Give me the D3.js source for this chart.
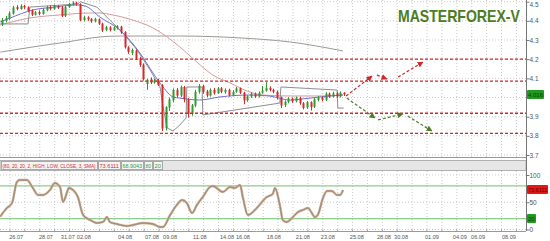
<!DOCTYPE html>
<html>
<head>
<meta charset="utf-8">
<script src="https://cdnjs.cloudflare.com/ajax/libs/d3/7.8.5/d3.min.js"></script>
<style>
  body { margin: 0; background: #fff; }
  svg { display: block; font-family: "Liberation Sans", Arial, sans-serif; }
</style>
</head>
<body>
<div id="chart"></div>
<script>
// ---- candles (4 bars per trading day) ----
const opens = [
  4.383, 4.400, 4.412, 4.438, 4.472, 4.462, 4.478, 4.470, 4.455, 4.432,
  4.446, 4.436, 4.455, 4.470, 4.462, 4.476, 4.470, 4.425, 4.472, 4.486,
  4.495, 4.488, 4.405, 4.418, 4.410, 4.398, 4.408, 4.386, 4.352, 4.366,
  4.352, 4.362, 4.370, 4.342, 4.262, 4.232, 4.245, 4.205, 4.172, 4.070,
  4.095, 4.078, 4.090, 4.065, 3.840, 3.948, 3.985, 4.040, 4.010, 4.055,
  3.990, 3.915, 3.958, 4.030, 4.060, 4.032, 4.010, 4.040, 4.022, 4.048,
  4.028, 4.040, 4.012, 4.030, 4.048, 4.025, 3.985, 4.005, 4.020, 4.005,
  4.025, 4.035, 4.050, 4.040, 4.030, 4.000, 3.960, 3.978, 3.995, 3.980,
  3.998, 3.970, 3.948, 3.975, 3.952, 3.988, 4.000, 3.988, 4.020, 4.005,
  4.022, 4.005, 4.025
];
const highs = [
  4.415, 4.425, 4.450, 4.478, 4.482, 4.486, 4.484, 4.476, 4.460, 4.452,
  4.455, 4.466, 4.478, 4.480, 4.485, 4.482, 4.478, 4.480, 4.494, 4.502,
  4.500, 4.492, 4.425, 4.424, 4.415, 4.416, 4.412, 4.390, 4.374, 4.372,
  4.372, 4.378, 4.374, 4.346, 4.268, 4.256, 4.250, 4.212, 4.178, 4.098,
  4.105, 4.098, 4.098, 4.070, 3.955, 4.000, 4.048, 4.050, 4.062, 4.060,
  3.998, 3.966, 4.040, 4.070, 4.066, 4.040, 4.048, 4.050, 4.055, 4.055,
  4.048, 4.046, 4.038, 4.055, 4.052, 4.030, 4.012, 4.028, 4.026, 4.032,
  4.060, 4.080, 4.058, 4.046, 4.036, 4.005, 3.985, 4.002, 4.000, 4.005,
  4.004, 3.976, 3.982, 3.980, 3.998, 4.008, 4.005, 4.028, 4.026, 4.030,
  4.030, 4.032, 4.028
];
const lows = [
  4.373, 4.392, 4.405, 4.432, 4.455, 4.458, 4.462, 4.445, 4.425, 4.428,
  4.430, 4.432, 4.450, 4.455, 4.458, 4.462, 4.420, 4.420, 4.468, 4.480,
  4.480, 4.398, 4.398, 4.400, 4.390, 4.392, 4.378, 4.342, 4.346, 4.345,
  4.348, 4.355, 4.332, 4.255, 4.228, 4.222, 4.196, 4.160, 4.088, 4.040,
  4.070, 4.072, 4.060, 3.825, 3.828, 3.930, 3.975, 4.000, 4.002, 3.975,
  3.895, 3.905, 3.950, 4.020, 4.020, 4.002, 4.005, 4.015, 4.018, 4.022,
  4.020, 4.005, 4.008, 4.025, 4.018, 3.965, 3.978, 3.998, 3.998, 4.000,
  4.020, 4.030, 4.032, 4.022, 3.990, 3.945, 3.950, 3.970, 3.972, 3.975,
  3.962, 3.938, 3.940, 3.932, 3.945, 3.980, 3.980, 3.982, 3.998, 4.000,
  3.998, 4.000, 4.008
];
const closes = [
  4.404, 4.415, 4.440, 4.470, 4.462, 4.478, 4.470, 4.452, 4.432, 4.445,
  4.436, 4.458, 4.470, 4.462, 4.478, 4.468, 4.425, 4.472, 4.488, 4.496,
  4.486, 4.405, 4.418, 4.408, 4.398, 4.410, 4.385, 4.350, 4.368, 4.352,
  4.365, 4.372, 4.340, 4.262, 4.238, 4.248, 4.205, 4.170, 4.095, 4.092,
  4.078, 4.090, 4.065, 3.838, 3.950, 3.990, 4.040, 4.010, 4.055, 3.990,
  3.915, 3.960, 4.030, 4.060, 4.030, 4.010, 4.040, 4.022, 4.048, 4.030,
  4.040, 4.012, 4.030, 4.048, 4.025, 3.985, 4.005, 4.020, 4.005, 4.025,
  4.035, 4.050, 4.040, 4.030, 4.000, 3.958, 3.978, 3.995, 3.980, 3.998,
  3.970, 3.945, 3.975, 3.950, 3.990, 4.000, 3.988, 4.020, 4.005, 4.022,
  4.005, 4.025, 4.016
];

// ---- indicator lines: [bar, price] ----
const fastMA = [[-0.5, 4.394], [2.2, 4.415], [8.3, 4.457], [13.7, 4.471], [20.2, 4.483], [22.3, 4.478],
  [26.3, 4.420], [31.7, 4.352], [37.1, 4.232], [40.6, 4.128], [43.3, 4.055], [46.0, 4.003], [47.8, 3.997],
  [53.2, 3.987], [58.6, 4.003], [66.7, 4.013], [71.8, 4.008], [77.4, 3.987], [82.8, 3.997], [88.2, 4.008], [91.7, 4.013]];
const slowMA = [[-0.5, 4.378], [7.5, 4.415], [15.6, 4.431], [23.7, 4.441], [26.3, 4.441], [29.8, 4.431],
  [35.2, 4.404], [40.6, 4.363], [44.4, 4.316], [47.8, 4.264], [52.4, 4.185], [56.7, 4.117], [61.3, 4.076],
  [65.9, 4.034], [70.2, 4.013], [77.4, 4.008], [85.5, 4.008], [91.7, 4.013]];
const longMA = [[-0.5, 4.237], [8.3, 4.264], [17.5, 4.290], [26.3, 4.316], [31.7, 4.321], [47.8, 4.321],
  [64.0, 4.311], [77.4, 4.290], [91.7, 4.243]];
const channel = [[-0.5, 4.384], [7.0, 4.384], [7.5, 4.472], [20.4, 4.488], [21.0, 4.500], [25.5, 4.472],
  [29.0, 4.404], [32.5, 4.337], [36.3, 4.248], [39.8, 4.144], [42.5, 4.055], [43.3, 3.950], [44.4, 3.841],
  [46.0, 3.825], [47.8, 3.856], [49.5, 3.893], [49.7, 4.055], [53.8, 4.055], [54.0, 3.909], [74.7, 3.971],
  [75.0, 4.055], [90.1, 4.039], [90.3, 3.945], [91.9, 3.945]];

// ---- support / resistance levels and scenario arrows ----
const levels = [4.2, 4.086, 3.918, 3.813];
const upArrows = [[92.5, 4.008, 99.5, 4.112], [100.8, 4.117, 103.5, 4.097], [106.5, 4.107, 113.2, 4.185]];
const downArrows = [[92.7, 3.997, 100.3, 3.893], [101.1, 3.883, 107.8, 3.914], [109.1, 3.903, 115.6, 3.825]];
const lastPrice = '4.016';

// ---- stochastic (80, 20, 20, 2, HIGH, LOW, CLOSE, 3, SMA) ----
const stochK = [[-0.5, 23.5], [1.3, 39.4], [2.7, 48.6], [4.0, 87.2], [4.8, 90.8], [6.7, 90.8], [8.3, 76.1],
  [9.7, 63.3], [11.0, 63.3], [12.9, 72.5], [14.2, 85.3], [15.6, 78.0], [16.4, 50.5], [17.5, 68.8], [17.9, 76.1],
  [19.1, 72.5], [20.4, 59.6], [21.8, 26.6], [23.7, 17.4], [25.5, 11.9], [27.2, 13.8], [28.2, 22.9], [29.0, 13.8],
  [30.9, 10.1], [33.6, 6.4], [35.2, 8.3], [37.9, 11.9], [40.6, 10.1], [42.5, 4.6], [43.3, 4.6], [45.2, 26.6],
  [47.0, 45.0], [48.4, 54.1], [49.7, 48.6], [51.1, 30.3], [52.4, 45.0], [54.0, 59.6], [55.9, 78.0], [56.7, 79.8],
  [59.4, 68.8], [61.3, 78.0], [62.6, 76.1], [64.0, 81.7], [64.8, 57.8], [66.1, 26.6], [68.5, 39.4], [71.2, 59.6],
  [72.8, 65.1], [73.4, 76.1], [74.7, 45.0], [75.5, 17.4], [76.6, 13.8], [78.2, 22.9], [79.6, 32.1], [80.9, 35.8],
  [82.3, 39.4], [83.3, 30.3], [84.1, 22.9], [84.9, 26.6], [86.3, 57.8], [87.4, 70.6], [88.7, 70.6], [90.1, 63.3],
  [90.9, 63.3], [91.7, 72.5]];
const stochLevels = [80, 20];
const stochParams = '(80, 20, 20, 2, HIGH, LOW, CLOSE, 3, SMA)';
const stochValues = ['73.6111', '68.9043', '80', '20'];

// ---- axes ----
const priceTicks = [3.7, 3.8, 3.9, 4.0, 4.1, 4.2, 4.3, 4.4, 4.5];
const stochTicks = [0, 50, 100];
const dateLabels = ['26.07', '28.07', '31.07', '02.08', '04.08', '07.08', '09.08', '11.08', '14.08', '16.08',
  '18.08', '21.08', '23.08', '25.08', '28.08', '30.08', '01.09', '04.09', '06.09', '08.09'];
const dateBars = [3.8, 11.8, 17.7, 22.0, 33.1, 40.3, 45.2, 53.2, 60.5, 64.8,
  73.1, 80.9, 87.6, 95.4, 102.7, 107.3, 115.6, 123.1, 128.0, 136.3];

const W = 550, H = 241;
const plotRight = 526;
const mainTop = 0, mainBottom = 157;
const subTop = 171, subBottom = 231;

const svg = d3.select('#chart').append('svg').attr('width', W).attr('height', H);

const x = d3.scaleLinear().domain([-0.54, 140.9]).range([0, plotRight]);
const y = d3.scaleLinear().domain([3.7, 4.5]).range([155, 1.7]);
const yS = d3.scaleLinear().domain([0, 100]).range([229.5, 175]);

const gridBars = d3.range(2.15, 141, 4.005);

// squeeze a text horizontally so it fits a given width
function fitText(sel, px, py, width) {
  const w = sel.node().getComputedTextLength();
  sel.attr('transform', `translate(${px},${py}) scale(${Math.min(1, width / w)},1)`);
}

// grid - main panel
const grid = svg.append('g').attr('stroke', '#c9c9c9').attr('stroke-dasharray', '1,2');
grid.selectAll('.vg').data(gridBars).enter().append('line')
  .attr('x1', d => x(d)).attr('x2', d => x(d)).attr('y1', mainTop).attr('y2', mainBottom);
grid.selectAll('.hg').data(priceTicks).enter().append('line')
  .attr('x1', 0).attr('x2', plotRight).attr('y1', d => y(d)).attr('y2', d => y(d));
// grid - stochastic panel
grid.selectAll('.vs').data(gridBars).enter().append('line')
  .attr('x1', d => x(d)).attr('x2', d => x(d)).attr('y1', subTop).attr('y2', subBottom);
grid.selectAll('.hs').data(stochTicks).enter().append('line')
  .attr('x1', 0).attr('x2', plotRight).attr('y1', d => yS(d)).attr('y2', d => yS(d));

// indicator lines
const line = d3.line().x(d => x(d[0])).y(d => y(d[1]));
const smooth = d3.line().x(d => x(d[0])).y(d => y(d[1])).curve(d3.curveMonotoneX);
svg.append('path').attr('d', smooth(longMA)).attr('fill', 'none').attr('stroke', '#9a9a92').attr('stroke-width', 1);
svg.append('path').attr('d', smooth(slowMA)).attr('fill', 'none').attr('stroke', '#d89a9a').attr('stroke-width', 1);
svg.append('path').attr('d', line(channel)).attr('fill', 'none').attr('stroke', '#8f8f8f').attr('stroke-width', 1);
svg.append('path').attr('d', smooth(fastMA)).attr('fill', 'none').attr('stroke', '#6f6fd8').attr('stroke-width', 1);

// candles
const bars = d3.range(closes.length);
const up = i => closes[i] >= opens[i];
const candles = svg.append('g');
candles.selectAll('.wick').data(bars).enter().append('line')
  .attr('x1', i => Math.round(x(i)) + 0.5).attr('x2', i => Math.round(x(i)) + 0.5)
  .attr('y1', i => y(highs[i])).attr('y2', i => y(lows[i]))
  .attr('stroke', i => up(i) ? '#2f9a2f' : '#d42a2a').attr('stroke-width', 1);
candles.selectAll('.body').data(bars).enter().append('rect')
  .attr('x', i => Math.round(x(i)) - 0.5).attr('width', 2)
  .attr('y', i => y(Math.max(opens[i], closes[i])))
  .attr('height', i => Math.max(1, Math.abs(y(opens[i]) - y(closes[i]))))
  .attr('fill', i => up(i) ? '#2f9a2f' : '#d42a2a');

// levels
svg.selectAll('.lvl').data(levels).enter().append('line')
  .attr('x1', 0).attr('x2', plotRight).attr('y1', d => y(d)).attr('y2', d => y(d))
  .attr('stroke', '#cc2a2a').attr('stroke-width', 1.3).attr('stroke-dasharray', '3,2');

// arrows
const defs = svg.append('defs');
[['arrUp', '#cc2a2a'], ['arrDn', '#4f7a2a']].forEach(([id, c]) => {
  defs.append('marker').attr('id', id).attr('viewBox', '0 0 10 10').attr('refX', 9).attr('refY', 5)
    .attr('markerWidth', 5).attr('markerHeight', 5).attr('orient', 'auto')
    .append('path').attr('d', 'M0,0L10,5L0,10z').attr('fill', c);
});
function drawArrows(data, color, marker) {
  svg.selectAll(null).data(data).enter().append('line')
    .attr('x1', d => x(d[0])).attr('y1', d => y(d[1])).attr('x2', d => x(d[2])).attr('y2', d => y(d[3]))
    .attr('stroke', color).attr('stroke-width', 1.2).attr('stroke-dasharray', '3,2')
    .attr('marker-end', `url(#${marker})`);
}
drawArrows(upArrows, '#cc2a2a', 'arrUp');
drawArrows(downArrows, '#4f7a2a', 'arrDn');

// title
const title = svg.append('text').text('MASTERFOREX-V')
  .attr('font-size', 16).attr('font-weight', 'bold').attr('fill', '#4d7d22');
fitText(title, 398, 22, 122);

// separator between panels
svg.append('line').attr('x1', 0).attr('x2', plotRight).attr('y1', mainBottom + 0.5).attr('y2', mainBottom + 0.5)
  .attr('stroke', '#999');
svg.append('rect').attr('x', 0).attr('y', 160.5).attr('width', plotRight).attr('height', 10)
  .attr('fill', '#e6e6e6').attr('stroke', '#b0b0b0');

// stochastic header
const hdr = svg.append('g').attr('font-size', 6);
const hdrBoxes = [[1, 96, stochParams, '#d03030'], [98, 22, stochValues[0], '#d03030'],
  [121, 22, stochValues[1], '#3a9a3a'], [144, 8, stochValues[2], '#3a9a3a'], [153, 9, stochValues[3], '#3a9a3a']];
hdrBoxes.forEach(([bx, bw, t, c]) => {
  hdr.append('rect').attr('x', bx + 0.5).attr('y', 161.5).attr('width', bw).attr('height', 8)
    .attr('fill', '#f4f4f4').attr('stroke', '#a8a8a8');
  const tx = hdr.append('text').attr('fill', c).text(t);
  fitText(tx, bx + 1.5, 167.8, bw - 2.5);
});

// stochastic levels and lines
svg.selectAll('.sl').data(stochLevels).enter().append('line')
  .attr('x1', 0).attr('x2', plotRight).attr('y1', d => yS(d)).attr('y2', d => yS(d))
  .attr('stroke', '#8ccc8c').attr('stroke-width', 1.2);
const sLine = d3.line().x(d => x(d[0])).y(d => yS(d[1])).curve(d3.curveMonotoneX);
svg.append('path').attr('d', sLine(stochK)).attr('fill', 'none').attr('stroke', '#c9a98e').attr('stroke-width', 2.4);
svg.append('path').attr('d', sLine(stochK)).attr('fill', 'none').attr('stroke', '#8c8275').attr('stroke-width', 0.8);

// right axes
const rAxis = svg.append('g').attr('transform', `translate(${plotRight + 0.5},0)`);
rAxis.append('line').attr('y1', 0).attr('y2', subBottom).attr('stroke', '#777');
rAxis.append('g').call(d3.axisRight(y).tickValues(priceTicks).tickSize(3)
    .tickFormat(d => d === 4.0 ? '' : d3.format('.1f')(d)))
  .call(g => g.select('.domain').remove());
rAxis.append('g').call(d3.axisRight(yS).tickValues(stochTicks).tickSize(3))
  .call(g => g.select('.domain').remove());
rAxis.selectAll('.tick text').attr('font-size', 6.5).attr('fill', '#555').attr('x', 3);
rAxis.selectAll('.tick line').attr('stroke', '#777');
rAxis.selectAll('.tick text').filter(d => d === 4.5).attr('dy', '0.75em');

// price & stoch tags
function tag(yy, txt, bg, fg, w) {
  svg.append('rect').attr('x', plotRight + 1).attr('y', yy - 4.5).attr('width', w).attr('height', 9)
    .attr('rx', 1).attr('fill', bg);
  const t = svg.append('text').attr('font-size', 6).attr('fill', fg).text(txt);
  fitText(t, plotRight + 2, yy + 2.3, w - 2);
}
tag(y(+lastPrice), lastPrice, '#1f9a1f', '#0c3a0c', 17);
tag(yS(+stochValues[0]), stochValues[0], '#e01818', '#600', 21);
tag(yS(stochLevels[1]), String(stochLevels[1]), '#1f9a1f', '#0c3a0c', 9);

// bottom date axis
const bAxis = svg.append('g').attr('transform', `translate(0,${subBottom + 0.5})`);
bAxis.append('line').attr('x1', 0).attr('x2', plotRight).attr('stroke', '#999');
bAxis.selectAll('text').data(dateLabels).enter().append('text')
  .attr('x', (d, i) => x(dateBars[i])).attr('y', 7.5).attr('text-anchor', 'middle')
  .attr('font-size', 5.6).attr('fill', '#555').text(d => d);
bAxis.selectAll('.bt').data(gridBars).enter().append('line')
  .attr('x1', d => x(d)).attr('x2', d => x(d)).attr('y1', -2).attr('y2', 0).attr('stroke', '#999');
</script>
</body>
</html>
